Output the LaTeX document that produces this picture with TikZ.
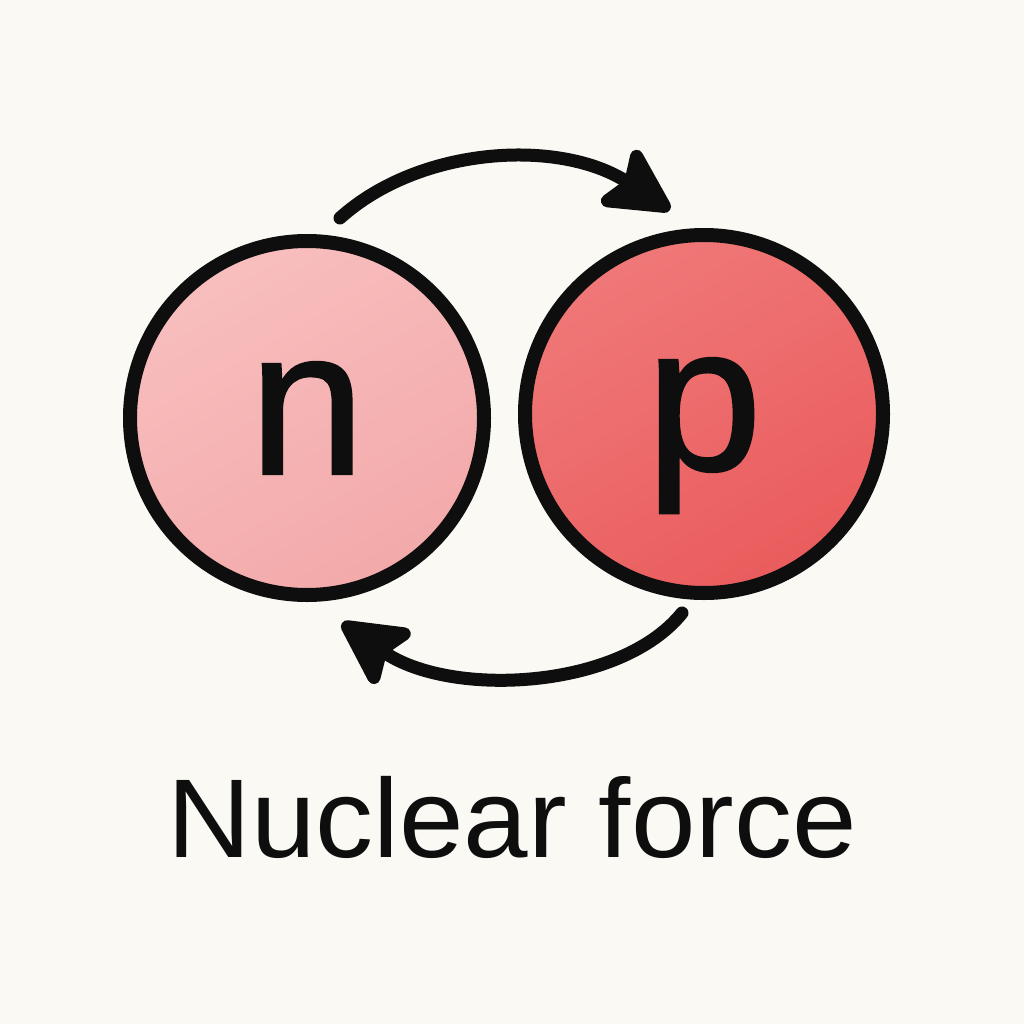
\documentclass[tikz,border=0pt]{standalone}
\usepackage{fontspec}
\setmainfont{Liberation Sans}
\newfontfamily\letterfont[FakeBold=1.2]{Liberation Sans}
\usetikzlibrary{arrows.meta}
\definecolor{bg}{HTML}{FAF9F4}
\definecolor{nlight}{HTML}{F8BEBE}
\definecolor{ndark}{HTML}{F3A9AA}
\definecolor{plight}{HTML}{F07878}
\definecolor{pdark}{HTML}{EA5C5D}
\definecolor{ink}{HTML}{0E0E0E}
\tikzset{
  particle/.style={circle, draw=ink, line width=14pt, inner sep=0pt, text depth=0pt,
    font=\letterfont\fontsize{208}{208}\selectfont, text=ink},
  flow/.style={draw=ink, line width=13pt, line cap=round,
    -{Stealth[length=76pt, width=78pt, inset=14pt, round]}},
  caption/.style={font=\fontsize{112}{112}\selectfont, text=ink, inner sep=0pt}
}
\begin{document}
\begin{tikzpicture}[x=1pt, y=-1pt]
  \fill[bg] (0,0) rectangle (1024,1024);
  \useasboundingbox (0,0) rectangle (1024,1024);
  \node[particle, minimum size=354pt, shading=axis, top color=nlight, bottom color=ndark, shading angle=30] (n) at (307,418) {n};
  \node[particle, minimum size=358pt, shading=axis, top color=plight, bottom color=pdark, shading angle=30] (p) at (704,414) {p};
  \coordinate (t1) at (340,218);
  \coordinate (t2) at (670,210);
  \coordinate (b1) at (682,613);
  \coordinate (b2) at (342,623);
  \draw[flow] (t1) .. controls (420,146) and (560,138) .. (t2);
  \draw[flow] (b1) .. controls (620,690) and (450,698) .. (b2);
  \node[caption, anchor=base, xscale=1.035] (cap) at (512,857) {Nuclear force};
\end{tikzpicture}
\end{document}
